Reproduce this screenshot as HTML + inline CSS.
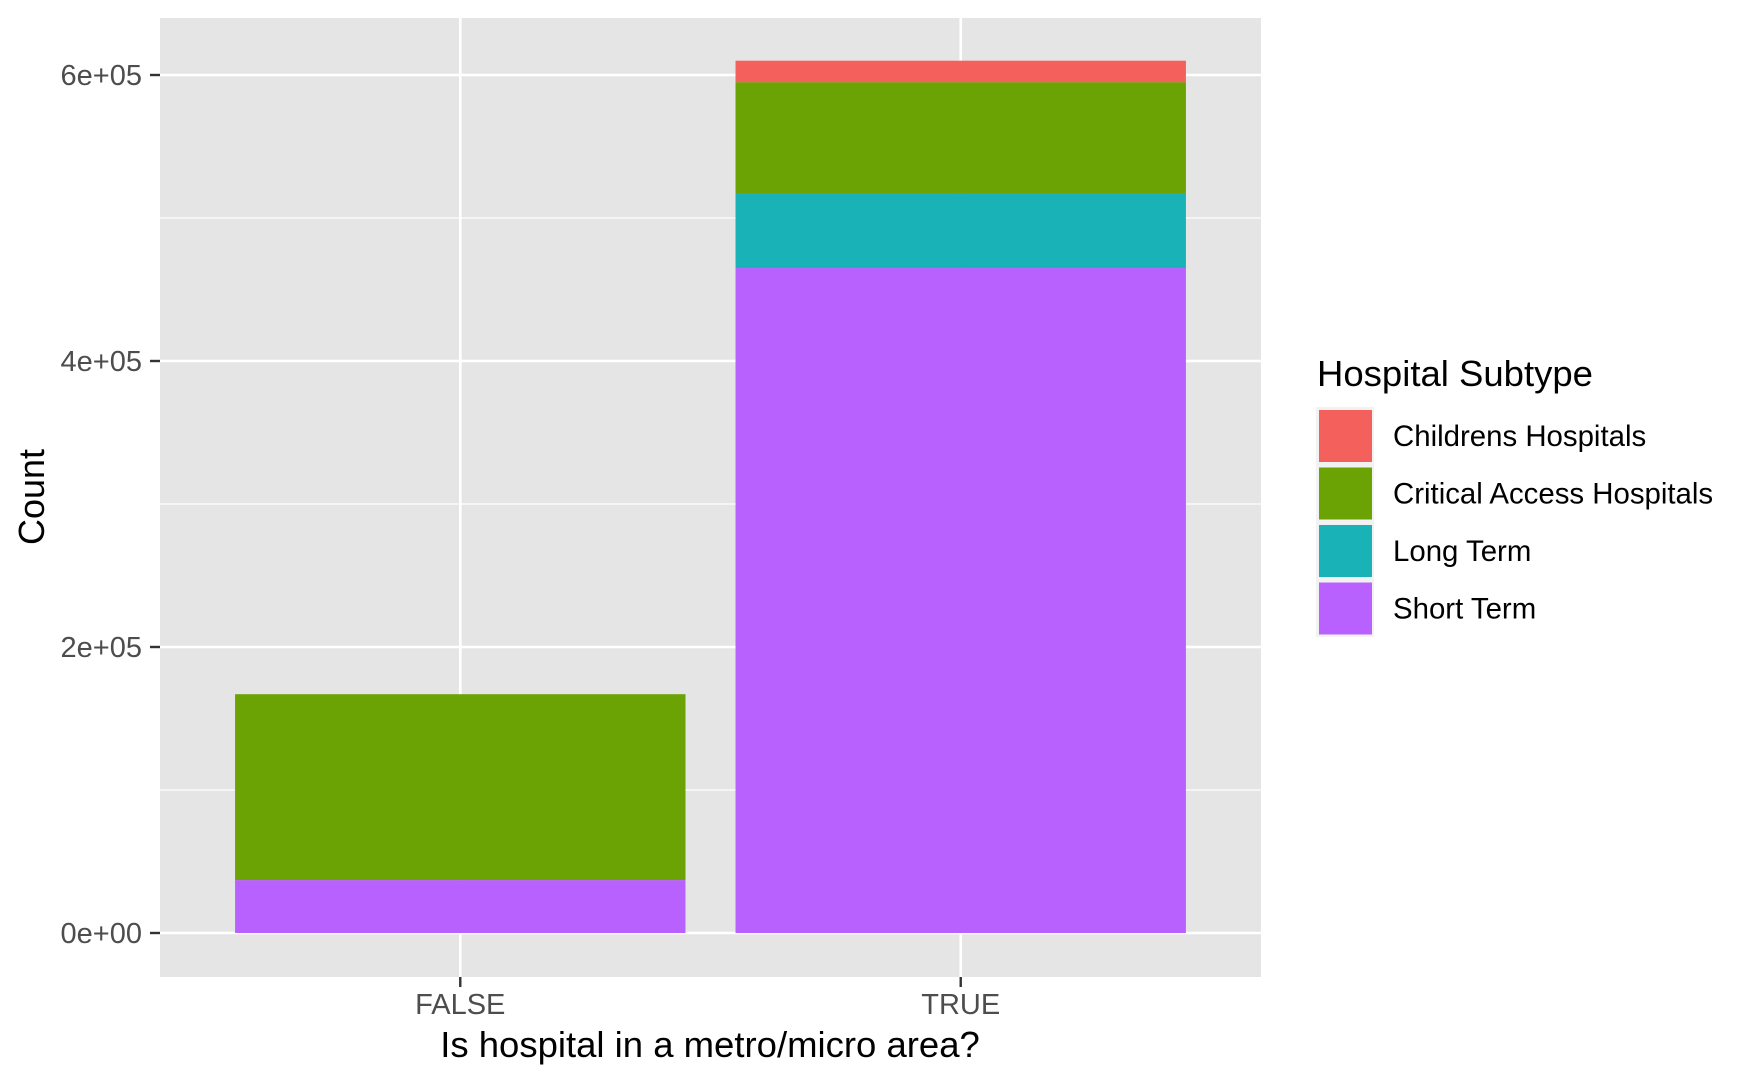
<!DOCTYPE html>
<html><head><meta charset="utf-8"><style>
html,body{margin:0;padding:0;background:#fff;}
svg{display:block;font-family:"Liberation Sans",Arial,sans-serif;}
</style></head><body>
<svg id="chart" width="1750" height="1081" viewBox="0 0 1750 1081" xmlns="http://www.w3.org/2000/svg">
<rect x="160" y="18" width="1101" height="959" fill="#e5e5e5"/>
<g id="grid"></g>
<g id="bars"></g>
<g id="axes"></g>
<text x="0" y="0" transform="translate(44,497) rotate(-90)" text-anchor="middle" font-size="36" fill="#000">Count</text>
<text x="710" y="1057" text-anchor="middle" font-size="36.5" fill="#000">Is hospital in a metro/micro area?</text>
<g id="legend">
<text x="1317" y="386" font-size="36.5" fill="#000">Hospital Subtype</text>
</g>
</svg>
<script>
const categories = ["FALSE", "TRUE"];
const seriesNames = ["Childrens Hospitals", "Critical Access Hospitals", "Long Term", "Short Term"];
const childrens = [0, 15000];
const criticalAccess = [130000, 77500];
const longTerm = [0, 52500];
const shortTerm = [37000, 465000];
const yTicks = [0, 200000, 400000, 600000];
const yTickLabels = ["0e+00", "2e+05", "4e+05", "6e+05"];
const fills = ["#f4605c", "#6ba304", "#19b2b7", "#b961ff"];

const NS = "http://www.w3.org/2000/svg";
const panel = {l:160, r:1261, t:18, b:977};
const yScale = v => 933 - v * (858 / 600000);
const xUnit = (panel.r - panel.l) / 2.2;
const xScale = i => panel.l + (i + 1 - 0.4) * xUnit;
const barW = 0.9 * xUnit;
function mk(tag, attrs, parent){const e=document.createElementNS(NS,tag);for(const k in attrs)e.setAttribute(k,attrs[k]);parent.appendChild(e);return e;}

const grid = document.getElementById('grid');
for (let i = 0; i < yTicks.length - 1; i++) {
  const mv = (yTicks[i] + yTicks[i+1]) / 2;
  const m = mk('line',{x1:panel.l,x2:panel.r,y1:yScale(mv),y2:yScale(mv),stroke:'#fff','stroke-width':1.3},grid);
  
  
}
yTicks.forEach(v => {
  const g = mk('line',{x1:panel.l,x2:panel.r,y1:yScale(v),y2:yScale(v),stroke:'#fff','stroke-width':2.6},grid);
  
  
});
categories.forEach((c,i) => {
  const g = mk('line',{x1:xScale(i),x2:xScale(i),y1:panel.t,y2:panel.b,stroke:'#fff','stroke-width':2.6},grid);
  
  
});

const bars = document.getElementById('bars');
const stackOrder = [shortTerm, longTerm, criticalAccess, childrens];
const stackFill = [fills[3], fills[2], fills[1], fills[0]];
const stackNames = ["short-term", "long-term", "critical-access", "childrens"];
categories.forEach((c,i) => {
  let base = 0;
  stackOrder.forEach((arr,k) => {
    const v = arr[i];
    if (v > 0) {
      const y1 = yScale(base + v), y0 = yScale(base);
      const r = mk('rect',{x:xScale(i)-barW/2,y:y1,width:barW,height:y0-y1,fill:stackFill[k]},bars);
      
      
    }
    base += v;
  });
});

const axes = document.getElementById('axes');
yTicks.forEach((v,i) => {
  const t = mk('line',{x1:150,x2:160,y1:yScale(v),y2:yScale(v),stroke:'#333','stroke-width':2.4},axes);
  
  
  const l = mk('text',{x:142,y:yScale(v)+10,'text-anchor':'end','font-size':29,fill:'#4d4d4d'},axes);
  l.textContent = yTickLabels[i];
  
  
});
categories.forEach((c,i) => {
  const t = mk('line',{x1:xScale(i),x2:xScale(i),y1:977,y2:987,stroke:'#333','stroke-width':2.4},axes);
  
  
  const l = mk('text',{x:xScale(i),y:1014,'text-anchor':'middle','font-size':29,fill:'#4d4d4d'},axes);
  l.textContent = c;
  
  
});

const legend = document.getElementById('legend');
seriesNames.forEach((n,i) => {
  const y = 407 + i * 57.5;
  const bg = mk('rect',{x:1316,y:y,width:58,height:57.5,fill:'#f2f2f2'},legend);
  
  
  const k = mk('rect',{x:1319,y:y+3,width:53,height:52,fill:fills[i]},legend);
  
  
  const t = mk('text',{x:1393,y:y+39,'font-size':29.4,fill:'#000'},legend);
  t.textContent = n;
  
  
});
</script>
</body></html>
